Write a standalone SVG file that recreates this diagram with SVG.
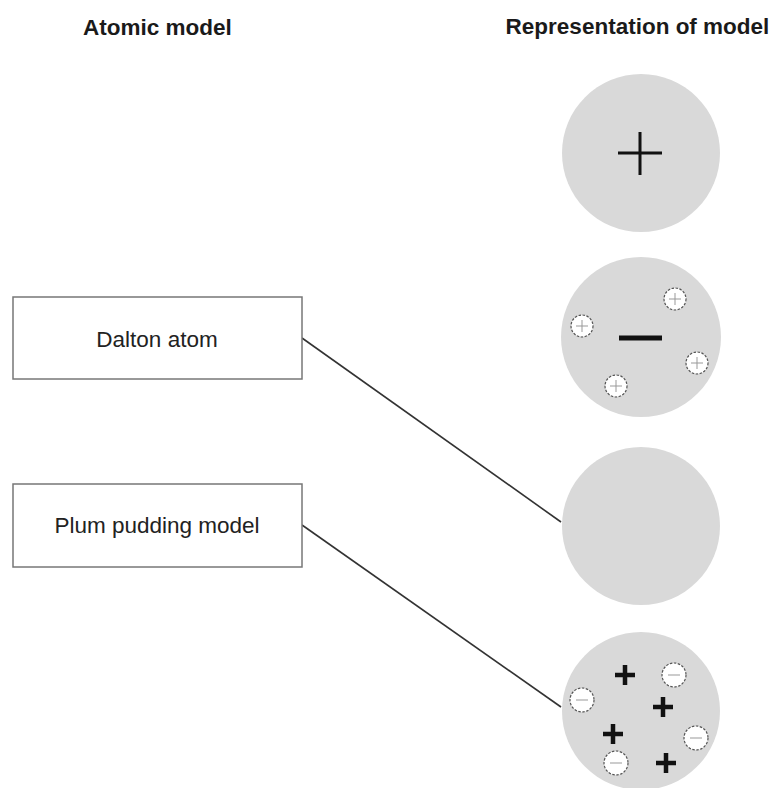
<svg xmlns="http://www.w3.org/2000/svg" width="778" height="788" viewBox="0 0 778 788">
<defs>
<style>
.hdr{font-family:"Liberation Sans",Arial,sans-serif;font-weight:bold;font-size:22.5px;fill:#1a1a1a;text-anchor:middle}
.lbl{font-family:"Liberation Sans",Arial,sans-serif;font-size:22.5px;fill:#222;text-anchor:middle}
.box{fill:#fff;stroke:#777;stroke-width:1.5}
.atom{fill:#d9d9d9}
.conn{stroke:#333;stroke-width:1.6;fill:none}
.small{fill:#fff;stroke:#555;stroke-width:1.2;stroke-dasharray:2.5 1.5}
.thin{stroke:#999;stroke-width:1;fill:none}
.bigsign{stroke:#111;fill:none}
.bold{stroke:#111;stroke-width:4.5;fill:none}
</style>
<g id="plusSmall"><circle class="small" r="11"/><path class="thin" d="M-6 0H6M0 -6V6"/></g>
<g id="minusSmall"><circle class="small" r="12"/><path class="thin" d="M-6 0H6"/></g>
<path id="plusBold" class="bold" d="M-10 0H10M0 -10V10"/>
</defs>
<rect width="778" height="788" fill="#fff"/>
<g id="headers">
<text class="hdr" x="157.5" y="35">Atomic model</text>
<text class="hdr" x="637.5" y="34">Representation of model</text>
</g>
<g id="connectors">
<line class="conn" x1="302" y1="338" x2="561" y2="522"/>
<line class="conn" x1="302" y1="525" x2="561" y2="707"/>
</g>
<g id="dalton-box">
<rect class="box" x="13" y="297" width="289" height="82"/>
<text class="lbl" x="157" y="347">Dalton atom</text>
</g>
<g id="plum-box">
<rect class="box" x="13" y="484" width="289" height="83"/>
<text class="lbl" x="157" y="533">Plum pudding model</text>
</g>
<g id="atom1">
<circle class="atom" cx="641" cy="153" r="79"/>
<path class="bigsign" stroke-width="3" d="M618 153H662M640 132V175"/>
</g>
<g id="atom2">
<circle class="atom" cx="641" cy="337" r="80"/>
<path class="bigsign" stroke-width="5" d="M619 338H662"/>
<use href="#plusSmall" x="675" y="299"/>
<use href="#plusSmall" x="582" y="326"/>
<use href="#plusSmall" x="697" y="363"/>
<use href="#plusSmall" x="616" y="386"/>
</g>
<g id="atom3">
<circle class="atom" cx="641" cy="526" r="79"/>
</g>
<g id="atom4">
<circle class="atom" cx="641" cy="711" r="79"/>
<use href="#plusBold" x="625" y="675"/>
<use href="#plusBold" x="663" y="707"/>
<use href="#plusBold" x="613" y="734"/>
<use href="#plusBold" x="666" y="763"/>
<use href="#minusSmall" x="674" y="675"/>
<use href="#minusSmall" x="582" y="700"/>
<use href="#minusSmall" x="696" y="738"/>
<use href="#minusSmall" x="616" y="763"/>
</g>
</svg>
